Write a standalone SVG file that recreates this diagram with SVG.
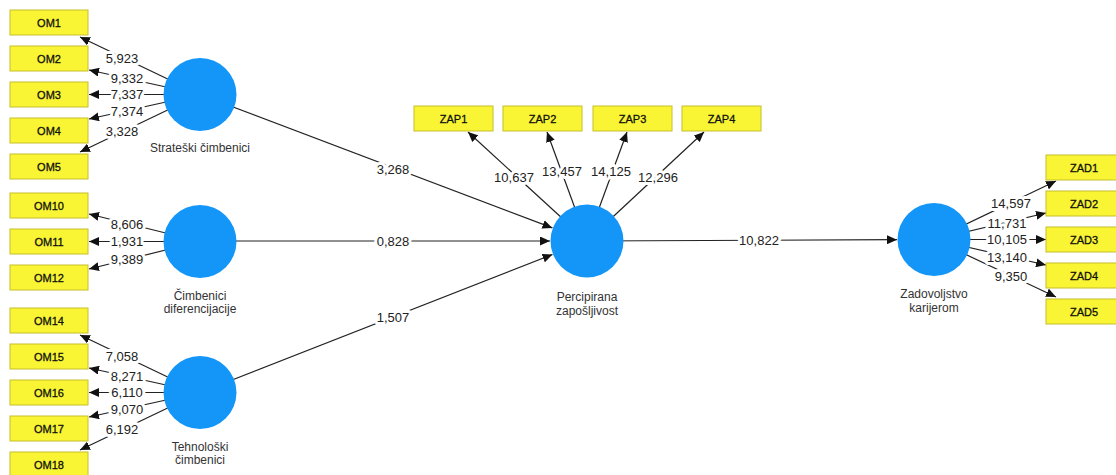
<svg xmlns="http://www.w3.org/2000/svg" width="1116" height="475" viewBox="0 0 1116 475">
<style>
.bx{fill:#faf534;stroke:#c6bf2c;stroke-width:1}
.bt{font-family:"Liberation Sans",Arial,sans-serif;font-size:11px;fill:#111;stroke:#111;stroke-width:0.3;text-anchor:middle;dominant-baseline:central}
.cr{fill:#1496f8}
.nl{font-family:"Liberation Sans",Arial,sans-serif;font-size:12px;fill:#333;text-anchor:middle;dominant-baseline:central}
.ln{stroke:#222;stroke-width:1.2;fill:none;marker-end:url(#ah)}
.lb{font-family:"Liberation Sans",Arial,sans-serif;font-size:13px;fill:#222;text-anchor:middle;dominant-baseline:central;stroke:#fff;stroke-width:6;paint-order:stroke;stroke-linejoin:round}
</style>
<defs>
<marker id="ah" markerUnits="userSpaceOnUse" markerWidth="10" markerHeight="9" refX="10" refY="4.5" orient="auto">
<path d="M0,0 L10,4.5 L0,9 z" fill="#111"/>
</marker>
</defs>
<rect width="1116" height="475" fill="#fff"/>
<g id="connectors">
<line class="ln" x1="200" y1="94.5" x2="80" y2="37"/>
<line class="ln" x1="200" y1="94.5" x2="89" y2="70"/>
<line class="ln" x1="200" y1="94.5" x2="89" y2="94.5"/>
<line class="ln" x1="200" y1="94.5" x2="89" y2="119"/>
<line class="ln" x1="200" y1="94.5" x2="80" y2="152"/>
<line class="ln" x1="200" y1="241.5" x2="89" y2="214"/>
<line class="ln" x1="200" y1="241.5" x2="89" y2="241.5"/>
<line class="ln" x1="200" y1="241.5" x2="89" y2="269"/>
<line class="ln" x1="200" y1="392.5" x2="80" y2="335"/>
<line class="ln" x1="200" y1="392.5" x2="89" y2="368"/>
<line class="ln" x1="200" y1="392.5" x2="89" y2="392.5"/>
<line class="ln" x1="200" y1="392.5" x2="89" y2="417"/>
<line class="ln" x1="200" y1="392.5" x2="80" y2="450"/>
<line class="ln" x1="200" y1="94.5" x2="552.4" y2="227.9"/>
<line class="ln" x1="200" y1="241" x2="550" y2="241"/>
<line class="ln" x1="200" y1="392.5" x2="552.5" y2="254.5"/>
<line class="ln" x1="587" y1="241" x2="468" y2="132"/>
<line class="ln" x1="587" y1="241" x2="547" y2="132"/>
<line class="ln" x1="587" y1="241" x2="627" y2="132"/>
<line class="ln" x1="587" y1="241" x2="704" y2="132"/>
<line class="ln" x1="587" y1="241" x2="897" y2="239.7"/>
<line class="ln" x1="934" y1="239.5" x2="1056" y2="181"/>
<line class="ln" x1="934" y1="239.5" x2="1046" y2="213"/>
<line class="ln" x1="934" y1="239.5" x2="1046" y2="239.5"/>
<line class="ln" x1="934" y1="239.5" x2="1046" y2="265"/>
<line class="ln" x1="934" y1="239.5" x2="1056" y2="297"/>
<text class="lb" x="122" y="58">5,923</text>
<text class="lb" x="127" y="78">9,332</text>
<text class="lb" x="127" y="94.5">7,337</text>
<text class="lb" x="127" y="111">7,374</text>
<text class="lb" x="122" y="131">3,328</text>
<text class="lb" x="127" y="224">8,606</text>
<text class="lb" x="127" y="241.5">1,931</text>
<text class="lb" x="127" y="259">9,389</text>
<text class="lb" x="122" y="356">7,058</text>
<text class="lb" x="127" y="376">8,271</text>
<text class="lb" x="127" y="392.5">6,110</text>
<text class="lb" x="127" y="409">9,070</text>
<text class="lb" x="122" y="429">6,192</text>
<text class="lb" x="393" y="169">3,268</text>
<text class="lb" x="393" y="241">0,828</text>
<text class="lb" x="393" y="317">1,507</text>
<text class="lb" x="514" y="177">10,637</text>
<text class="lb" x="562" y="171">13,457</text>
<text class="lb" x="611" y="171">14,125</text>
<text class="lb" x="658" y="177">12,296</text>
<text class="lb" x="759" y="240.5">10,822</text>
<text class="lb" x="1011" y="203">14,597</text>
<text class="lb" x="1007" y="223">11,731</text>
<text class="lb" x="1007" y="239.5">10,105</text>
<text class="lb" x="1007" y="257">13,140</text>
<text class="lb" x="1011" y="276">9,350</text>
</g>
<g id="strateski"><circle class="cr" cx="200" cy="94.5" r="36.5"/><text class="nl" x="200" y="148">Strateški čimbenici</text></g>
<g id="diferencijacija"><circle class="cr" cx="200" cy="241.5" r="36.5"/><text class="nl" x="200" y="296">Čimbenici</text><text class="nl" x="200" y="309">diferencijacije</text></g>
<g id="tehnoloski"><circle class="cr" cx="200" cy="392.5" r="36.5"/><text class="nl" x="200" y="447">Tehnološki</text><text class="nl" x="200" y="460">čimbenici</text></g>
<g id="percipirana"><circle class="cr" cx="587" cy="241" r="36.5"/><text class="nl" x="587" y="297">Percipirana</text><text class="nl" x="587" y="311">zapošljivost</text></g>
<g id="zadovoljstvo"><circle class="cr" cx="934" cy="239.5" r="36.5"/><text class="nl" x="934" y="294">Zadovoljstvo</text><text class="nl" x="934" y="308">karijerom</text></g>
<g id="OM1"><rect class="bx" x="10" y="10" width="78" height="25"/><text class="bt" x="49" y="22.5">OM1</text></g>
<g id="OM2"><rect class="bx" x="10" y="46" width="78" height="25"/><text class="bt" x="49" y="58.5">OM2</text></g>
<g id="OM3"><rect class="bx" x="10" y="82" width="78" height="25"/><text class="bt" x="49" y="94.5">OM3</text></g>
<g id="OM4"><rect class="bx" x="10" y="118" width="78" height="25"/><text class="bt" x="49" y="130.5">OM4</text></g>
<g id="OM5"><rect class="bx" x="10" y="154" width="78" height="25"/><text class="bt" x="49" y="166.5">OM5</text></g>
<g id="OM10"><rect class="bx" x="10" y="193" width="78" height="25"/><text class="bt" x="49" y="205.5">OM10</text></g>
<g id="OM11"><rect class="bx" x="10" y="229" width="78" height="25"/><text class="bt" x="49" y="241.5">OM11</text></g>
<g id="OM12"><rect class="bx" x="10" y="265" width="78" height="25"/><text class="bt" x="49" y="277.5">OM12</text></g>
<g id="OM14"><rect class="bx" x="10" y="308" width="78" height="25"/><text class="bt" x="49" y="320.5">OM14</text></g>
<g id="OM15"><rect class="bx" x="10" y="344" width="78" height="25"/><text class="bt" x="49" y="356.5">OM15</text></g>
<g id="OM16"><rect class="bx" x="10" y="380" width="78" height="25"/><text class="bt" x="49" y="392.5">OM16</text></g>
<g id="OM17"><rect class="bx" x="10" y="416" width="78" height="25"/><text class="bt" x="49" y="428.5">OM17</text></g>
<g id="OM18"><rect class="bx" x="10" y="452" width="78" height="25"/><text class="bt" x="49" y="464.5">OM18</text></g>
<g id="ZAP1"><rect class="bx" x="414" y="106" width="79" height="25"/><text class="bt" x="453.5" y="118.5">ZAP1</text></g>
<g id="ZAP2"><rect class="bx" x="503" y="106" width="79" height="25"/><text class="bt" x="542.5" y="118.5">ZAP2</text></g>
<g id="ZAP3"><rect class="bx" x="593" y="106" width="79" height="25"/><text class="bt" x="632.5" y="118.5">ZAP3</text></g>
<g id="ZAP4"><rect class="bx" x="682" y="106" width="79" height="25"/><text class="bt" x="721.5" y="118.5">ZAP4</text></g>
<g id="ZAD1"><rect class="bx" x="1046" y="155" width="79" height="25"/><text class="bt" x="1084" y="167.5">ZAD1</text></g>
<g id="ZAD2"><rect class="bx" x="1046" y="191" width="79" height="25"/><text class="bt" x="1084" y="203.5">ZAD2</text></g>
<g id="ZAD3"><rect class="bx" x="1046" y="227" width="79" height="25"/><text class="bt" x="1084" y="239.5">ZAD3</text></g>
<g id="ZAD4"><rect class="bx" x="1046" y="263" width="79" height="25"/><text class="bt" x="1084" y="275.5">ZAD4</text></g>
<g id="ZAD5"><rect class="bx" x="1046" y="299" width="79" height="25"/><text class="bt" x="1084" y="311.5">ZAD5</text></g>
</svg>
